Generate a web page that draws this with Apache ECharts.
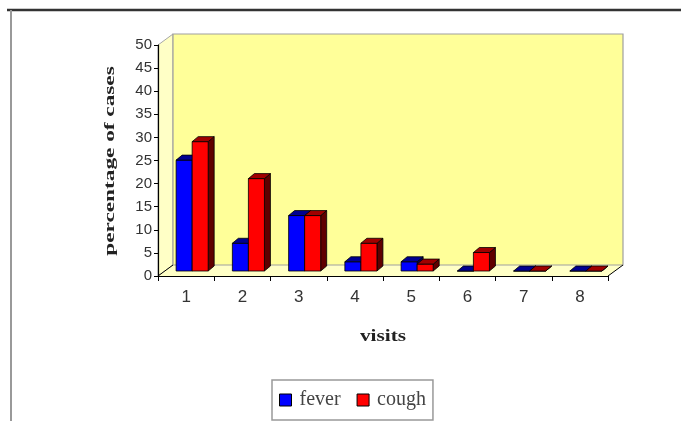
<!DOCTYPE html>
<html>
<head>
<meta charset="utf-8">
<title>Visits</title>
<script src="https://cdn.jsdelivr.net/npm/echarts@6/dist/echarts.min.js"></script>
<style>
  html, body { margin: 0; padding: 0; background: #ffffff; }
  #chart { width: 681px; height: 421px; }
</style>
</head>
<body>
<div id="chart"></div>
<script>
// Share of cases by number of visits
const visits = ['1', '2', '3', '4', '5', '6', '7', '8'];
const fever = [24, 6, 12, 2, 2, 0, 0, 0];
const cough = [28, 20, 12, 6, 1.5, 4, 0, 0];
const yTicks = [0, 5, 10, 15, 20, 25, 30, 35, 40, 45, 50];

// pseudo-3D depth of the plot box and of each column
const WALL_DX = 15, WALL_DY = -11;
const BAR_DX = 6, BAR_DY = -5;

const chart = echarts.init(document.getElementById('chart'), null, { renderer: 'canvas' });

function columnRenderer(slot, front, topFace, sideFace) {
  return function (params, api) {
    const i = api.value(0);
    const v = api.value(1);
    const base = api.coord([i, 0]);
    const top = api.coord([i, v]);
    const band = api.size([1, 0])[0];
    const w = band * 0.285;
    const ox = band * 0.107;
    const oy = -5;
    const x0 = base[0] + ox + (slot === 0 ? -w : 0);
    const yb = base[1] + oy;
    const yt = top[1] + oy;
    const edge = { stroke: '#000', lineWidth: 0.8 };
    return {
      type: 'group',
      children: [
        {
          type: 'polygon',
          shape: { points: [[x0 + w, yt], [x0 + w + BAR_DX, yt + BAR_DY], [x0 + w + BAR_DX, yb + BAR_DY], [x0 + w, yb]] },
          style: Object.assign({ fill: sideFace }, edge)
        },
        {
          type: 'rect',
          shape: { x: x0, y: yt, width: w, height: yb - yt },
          style: Object.assign({ fill: front }, edge)
        },
        {
          type: 'polygon',
          shape: { points: [[x0, yt], [x0 + w, yt], [x0 + w + BAR_DX, yt + BAR_DY], [x0 + BAR_DX, yt + BAR_DY]] },
          style: Object.assign({ fill: topFace }, edge)
        }
      ]
    };
  };
}

function wallsRenderer(params) {
  const c = params.coordSys;
  const x = c.x, y = c.y, w = c.width, h = c.height;
  const dx = WALL_DX, dy = WALL_DY;
  return {
    type: 'group',
    children: [
      {
        type: 'polygon',
        shape: { points: [[x, y], [x + dx, y + dy], [x + dx, y + h + dy], [x, y + h]] },
        style: { fill: '#FFFFC6', stroke: '#A8A8A8', lineWidth: 1 }
      },
      {
        type: 'polygon',
        shape: { points: [[x, y + h], [x + w, y + h], [x + w + dx, y + h + dy], [x + dx, y + h + dy]] },
        style: { fill: '#FFFFC6', stroke: null }
      },
      {
        type: 'rect',
        shape: { x: x + dx, y: y + dy, width: w, height: h },
        style: { fill: '#FFFF99', stroke: '#A0A0A0', lineWidth: 1.2 }
      },
      {
        type: 'line',
        shape: { x1: x, y1: y + h, x2: x + dx, y2: y + h + dy },
        style: { stroke: '#000', lineWidth: 1 }
      },
      {
        type: 'line',
        shape: { x1: x + w, y1: y + h, x2: x + w + dx, y2: y + h + dy },
        style: { stroke: '#000', lineWidth: 1 }
      }
    ]
  };
}

const option = {
  animation: false,
  backgroundColor: '#ffffff',
  grid: { left: 158, right: 73, top: 45, bottom: 145, containLabel: false },
  legend: {
    data: ['fever', 'cough'],
    left: 272,
    top: 380,
    orient: 'horizontal',
    icon: 'rect',
    itemWidth: 12,
    itemHeight: 12,
    itemGap: 16,
    padding: [10, 7],
    borderColor: '#999',
    borderWidth: 1.5,
    itemStyle: { borderColor: '#000', borderWidth: 1 },
    textStyle: { fontFamily: 'Liberation Serif', fontSize: 20, color: '#444', padding: [0, 0, 0, 3] }
  },
  xAxis: {
    type: 'category',
    data: visits,
    z: 5,
    axisLine: { lineStyle: { color: '#000', width: 1.2 } },
    axisTick: { show: true, length: 5, lineStyle: { color: '#000' } },
    axisLabel: { fontFamily: 'Liberation Sans', fontSize: 17, color: '#333', margin: 13 },
    splitLine: { show: false }
  },
  yAxis: {
    type: 'value',
    min: yTicks[0],
    max: yTicks[yTicks.length - 1],
    interval: yTicks[1] - yTicks[0],
    z: 5,
    axisLine: { show: true, lineStyle: { color: '#000', width: 1.2 } },
    axisTick: { show: true, length: 4, lineStyle: { color: '#000' } },
    axisLabel: { fontFamily: 'Liberation Sans', fontSize: 15, color: '#333', margin: 6 },
    splitLine: { show: false }
  },
  graphic: [
    {
      type: 'line',
      shape: { x1: 7, y1: 10, x2: 681, y2: 10 },
      style: { stroke: '#333', lineWidth: 2.5 },
      silent: true
    },
    {
      type: 'line',
      shape: { x1: 11, y1: 10, x2: 11, y2: 421 },
      style: { stroke: '#999', lineWidth: 2 },
      silent: true
    },
    {
      type: 'text',
      x: 110,
      y: 161,
      rotation: Math.PI / 2,
      scaleX: 1.55,
      style: {
        text: 'percentage of cases',
        font: 'bold 15px "Liberation Serif"',
        fill: '#222',
        align: 'center',
        verticalAlign: 'middle'
      },
      silent: true
    },
    {
      type: 'text',
      x: 383,
      y: 337,
      scaleX: 1.25,
      style: {
        text: 'visits',
        font: 'bold 17px "Liberation Serif"',
        fill: '#222',
        align: 'center',
        verticalAlign: 'middle'
      },
      silent: true
    }
  ],
  series: [
    {
      name: 'walls',
      type: 'custom',
      silent: true,
      z: 1,
      data: [[0, 0]],
      renderItem: wallsRenderer
    },
    {
      name: 'fever',
      type: 'custom',
      z: 2,
      itemStyle: { color: '#0000FF' },
      data: fever.map((v, i) => [i, v]),
      renderItem: columnRenderer(0, '#0000FF', '#000090', '#000060')
    },
    {
      name: 'cough',
      type: 'custom',
      z: 3,
      itemStyle: { color: '#FF0000' },
      data: cough.map((v, i) => [i, v]),
      renderItem: columnRenderer(1, '#FF0000', '#A00000', '#600000')
    }
  ]
};

chart.setOption(option);
</script>
</body>
</html>
